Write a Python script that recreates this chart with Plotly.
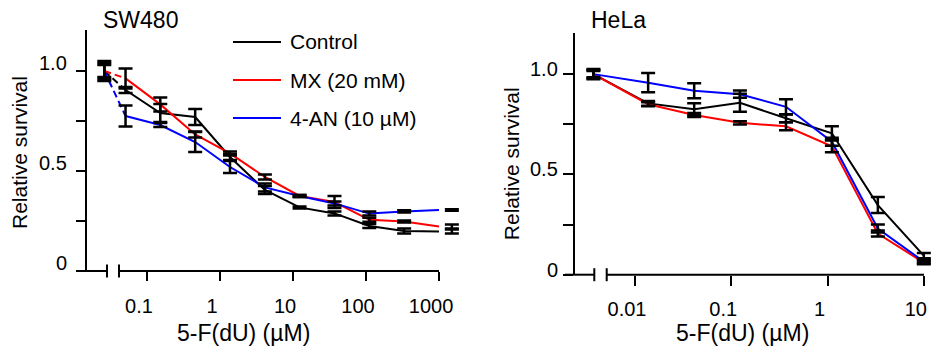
import plotly.graph_objects as go

W, H = 934, 349
FONT = "Arial, Liberation Sans, sans-serif"

# ---------------- data ----------------
series_names = ["Control", "MX (20 mM)", "4-AN (10 µM)"]
series_colors = ["#000000", "#ff0000", "#0000ff"]

# SW480 (first value of each series = untreated, drawn left of the axis break)
sw_conc = [0.0508, 0.152, 0.457, 1.37, 4.12, 12.3, 37.0, 111.0, 333.0, 1000.0]
sw_zero_pos = 0.026
sw_err_conc = [0.0508, 0.152, 0.457, 1.37, 4.12, 12.3, 37.0, 111.0, 333.0, 1500.0]
sw_control = [1.0, 0.905, 0.79, 0.77, 0.57, 0.405, 0.318, 0.288, 0.225, 0.200, 0.197]
sw_control_err = [0.05, 0.015, 0.045, 0.04, 0.015, 0.02, 0.005, 0.01, 0.01, 0.012, 0.01]
sw_mx = [1.0, 0.963, 0.833, 0.683, 0.588, 0.47, 0.375, 0.345, 0.256, 0.247, 0.222]
sw_mx_err = [0.04, 0.05, 0.035, 0.015, 0.01, 0.013, 0.005, 0.03, 0.01, 0.005, 0.01]
sw_an = [1.0, 0.775, 0.73, 0.645, 0.52, 0.418, 0.375, 0.338, 0.287, 0.298, 0.305]
sw_an_err = [0.03, 0.052, 0.01, 0.05, 0.03, 0.02, 0.005, 0.01, 0.01, 0.006, 0.004]

# HeLa
hl_conc = [0.0137, 0.0412, 0.123, 0.370, 1.11, 3.33, 10.0]
hl_zero_pos = 0.0037
hl_control = [1.0, 0.854, 0.825, 0.857, 0.78, 0.705, 0.347, 0.095]
hl_control_err = [0.02, 0.012, 0.03, 0.045, 0.02, 0.035, 0.04, 0.013]
hl_mx = [1.0, 0.85, 0.796, 0.757, 0.74, 0.64, 0.205, 0.06]
hl_mx_err = [0.025, 0.01, 0.01, 0.008, 0.02, 0.03, 0.015, 0.008]
hl_an = [1.0, 0.957, 0.917, 0.90, 0.837, 0.663, 0.23, 0.065]
hl_an_err = [0.015, 0.048, 0.037, 0.018, 0.038, 0.02, 0.02, 0.008]

sw_tickvals = [0.1, 1, 10, 100, 1000]
sw_ticktext = ["0.1", "1", "10", "100", "1000"]
hl_tickvals = [0.01, 0.1, 1, 10]
hl_ticktext = ["0.01", "0.1", "1", "10"]
y_tickvals = [0, 0.25, 0.5, 0.75, 1.0]
y_labelvals = [0, 0.5, 1.0]
y_labeltext = ["0", "0.5", "1.0"]


def px(x):
    return x / W


def py(y):
    return 1 - y / H


fig = go.Figure()


def add_panel(xa, ya, conc, zero_pos, err_conc, vals, errs, dashed_first):
    # lines
    for v, c in zip(vals, series_colors):
        if dashed_first:
            fig.add_trace(go.Scatter(x=[zero_pos, conc[0]], y=[v[0], v[1]], mode="lines",
                                     line=dict(color=c, width=2, dash="7px,4px"),
                                     xaxis=xa, yaxis=ya, hoverinfo="skip"))
            fig.add_trace(go.Scatter(x=conc, y=v[1:], mode="lines",
                                     line=dict(color=c, width=2),
                                     xaxis=xa, yaxis=ya, hoverinfo="skip"))
        else:
            fig.add_trace(go.Scatter(x=[zero_pos] + conc, y=v, mode="lines",
                                     line=dict(color=c, width=2),
                                     xaxis=xa, yaxis=ya, hoverinfo="skip"))
    # error bars (black, on top)
    for v, e in zip(vals, errs):
        fig.add_trace(go.Scatter(x=[zero_pos] + err_conc, y=v, mode="markers",
                                 marker=dict(size=2, color="rgba(0,0,0,0)"),
                                 error_y=dict(type="data", array=e, visible=True,
                                              color="black", thickness=2.5, width=7),
                                 xaxis=xa, yaxis=ya, hoverinfo="skip"))


add_panel("x", "y", sw_conc, sw_zero_pos, sw_err_conc,
          [sw_control, sw_mx, sw_an], [sw_control_err, sw_mx_err, sw_an_err], True)
add_panel("x2", "y2", hl_conc, hl_zero_pos, hl_conc,
          [hl_control, hl_mx, hl_an], [hl_control_err, hl_mx_err, hl_an_err], False)

axis_common = dict(showgrid=False, zeroline=False, ticks="outside", tickwidth=2,
                   tickcolor="black", tickfont=dict(family=FONT, size=20, color="black"))

fig.update_layout(
    width=W, height=H, margin=dict(l=0, r=0, t=0, b=0),
    paper_bgcolor="white", plot_bgcolor="white", showlegend=False,
    font=dict(family=FONT, color="black"),
    xaxis=dict(type="log", domain=[px(87), px(462)], range=[-1.822, 3.315],
               tickvals=sw_tickvals, ticktext=sw_ticktext, ticklen=9, showline=False,
               anchor="y", ticklabelshift=-8, ticklabelstandoff=8, **axis_common),
    yaxis=dict(domain=[py(271), py(30)], range=[0, 1.205], tickvals=y_tickvals,
               showticklabels=False, ticklen=9, showline=True, linewidth=2, linecolor="black",
               anchor="x", **axis_common),
    xaxis2=dict(type="log", domain=[px(575), px(932)], range=[-2.623, 1.085],
                tickvals=hl_tickvals, ticktext=hl_ticktext, ticklen=10, showline=False,
                anchor="y2", ticklabelshift=-8, ticklabelstandoff=6, **axis_common),
    yaxis2=dict(domain=[py(274.7), py(33)], range=[0, 1.205], tickvals=y_tickvals,
                showticklabels=False, ticklen=10, showline=True, linewidth=2, linecolor="black",
                anchor="x2", **axis_common),
)

# broken x-axis lines + break ticks
shapes = []
for (a, b, yb, t1, t2) in [(78, 107, 271, 107, 119), (119, 439, 271, None, None),
                           (565, 594.3, 274.7, 594.3, 606.7), (606.7, 924, 274.7, None, None)]:
    shapes.append(dict(type="line", xref="paper", yref="paper", x0=px(a), x1=px(b),
                       y0=py(yb), y1=py(yb), line=dict(color="black", width=2)))
    if t1 is not None:
        for t in (t1, t2):
            shapes.append(dict(type="line", xref="paper", yref="paper", x0=px(t), x1=px(t),
                               y0=py(yb - 6.5), y1=py(yb + 6.5), line=dict(color="black", width=2)))

annotations = []
# y tick labels (raised a little above their ticks, as in the reference)
for yref, xr, lift in [("y", 69, 8), ("y2", 560, 5)]:
    for v, t in zip(y_labelvals, y_labeltext):
        annotations.append(dict(x=px(xr), y=v, xref="paper", yref=yref, text=t,
                                showarrow=False, xanchor="right", yanchor="middle",
                                yshift=lift, font=dict(family=FONT, size=20, color="black")))

# legend samples
legend_y = [42, 80, 118]
for name, c, ly in zip(series_names, series_colors, legend_y):
    shapes.append(dict(type="line", xref="paper", yref="paper", x0=px(233), x1=px(281),
                       y0=py(ly), y1=py(ly), line=dict(color=c, width=2)))
    annotations.append(dict(x=px(288), y=py(ly), xref="paper", yref="paper", text=name,
                            showarrow=False, xanchor="left", yanchor="middle",
                            font=dict(family=FONT, size=21, color="black")))

# titles
for txt, x, y, xa, size, ang in [("SW480", 101, 20.5, "left", 23, 0),
                                ("HeLa", 589, 20.5, "left", 23, 0),
                                ("5-F(dU) (µM)", 243, 333, "center", 23, 0),
                                ("5-F(dU) (µM)", 742.5, 333, "center", 23, 0),
                                ("Relative survival", 19, 153, "center", 21, -90),
                                ("Relative survival", 511.7, 163.5, "center", 21, -90)]:
    annotations.append(dict(x=px(x), y=py(y), xref="paper", yref="paper", text=txt,
                            showarrow=False, xanchor=xa, yanchor="middle", textangle=ang,
                            font=dict(family=FONT, size=size, color="black")))

fig.update_layout(shapes=shapes, annotations=annotations)
fig.write_html("out.html", config={"displayModeBar": False},
               post_script="document.body.style.margin='0';document.body.style.overflow='hidden';")
